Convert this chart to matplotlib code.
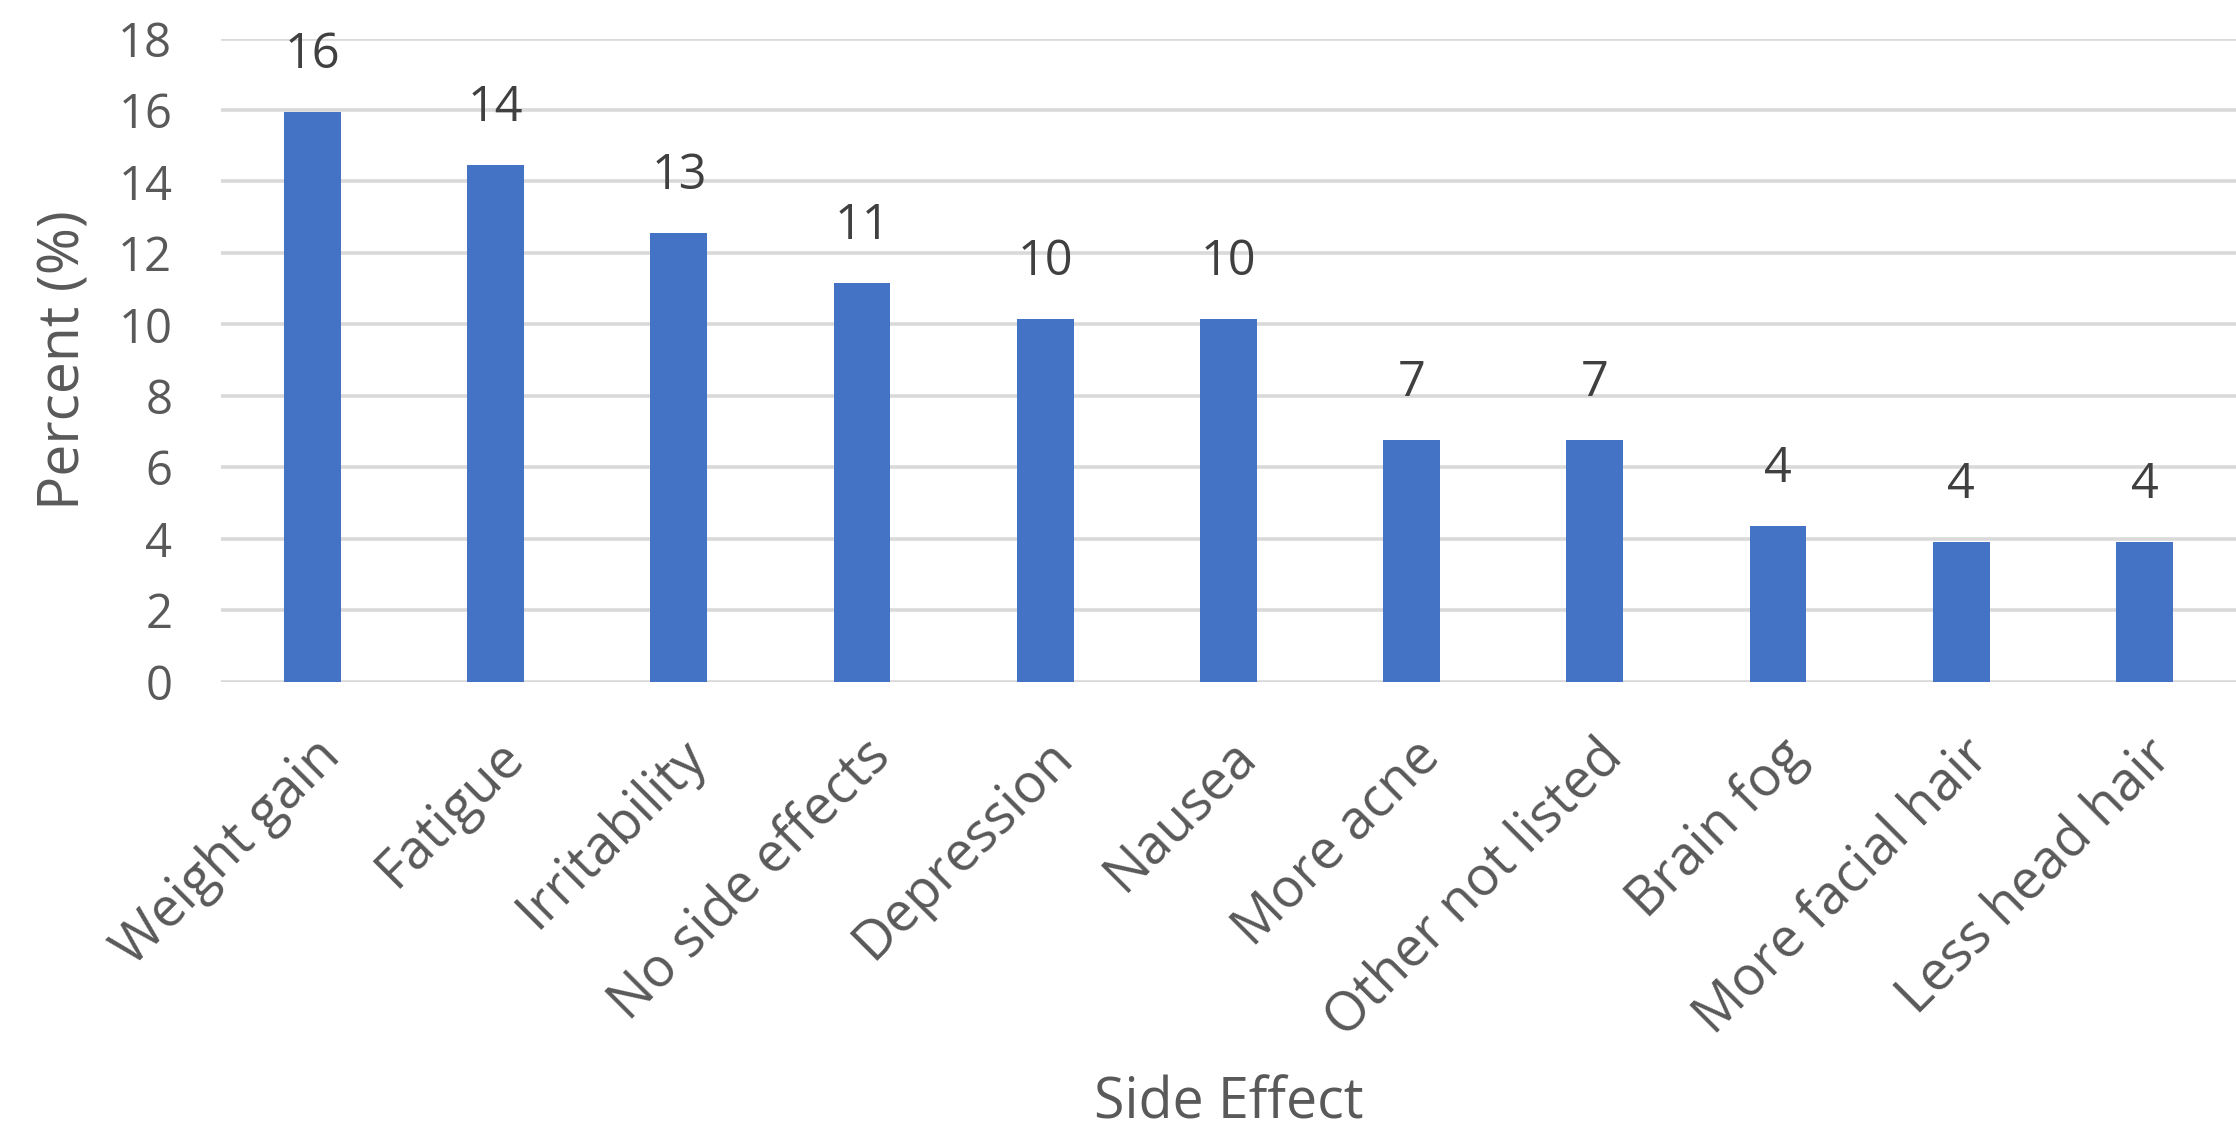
#!/usr/bin/env python3

import numpy as np
import matplotlib.pyplot as plt

# chart data
side_effects = ['Weight gain', 'Fatigue', 'Irritability', 'No side effects',
                'Depression', 'Nausea', 'More acne', 'Other not listed',
                'Brain fog', 'More facial hair', 'Less head hair']
percent = [15.95, 14.45, 12.55, 11.15, 10.15, 10.15, 6.75, 6.75, 4.35, 3.9, 3.9]
y_ticks = [0, 2, 4, 6, 8, 10, 12, 14, 16, 18]

bar_color = '#4472C4'
text_color = '#595959'
grid_color = '#D9D9D9'

plt.rcParams['font.family'] = ['Open Sans', 'DejaVu Sans']

fig = plt.figure(figsize=(22.36, 11.34), dpi=100)
ax = fig.add_axes([0.0988, 0.399, 0.9012, 0.567])

x = np.arange(len(side_effects))
bars = ax.bar(x, percent, width=0.31, color=bar_color, zorder=3)

# data labels, rounded like the original
for xi, val in zip(x, percent):
    ax.annotate(f"{val:.0f}", (xi, val), xytext=(0, 23), textcoords='offset points',
                ha='center', va='bottom', fontsize=35, color='#404040')

ax.set_xlim(-0.5, len(side_effects) - 0.5)
ax.set_ylim(0, 18)
ax.set_yticks(y_ticks)
ax.set_yticklabels([str(t) for t in y_ticks], fontsize=34, color=text_color)
ax.set_xticks(x)
ax.set_xticklabels(side_effects, rotation=45, ha='right', rotation_mode='anchor',
                   fontsize=39, color=text_color)
ax.tick_params(axis='both', length=0)
ax.tick_params(axis='y', pad=35)
ax.tick_params(axis='x', pad=34)

ax.yaxis.grid(True, color=grid_color, linewidth=2.6, zorder=0)
ax.set_axisbelow(True)
for s in ax.spines.values():
    s.set_visible(False)

ax.set_ylabel('Percent (%)', fontsize=41, color=text_color, labelpad=18)
ax.set_xlabel('Side Effect', fontsize=40, color=text_color, labelpad=20)

fig.savefig('out.png', dpi=100, facecolor='white')
